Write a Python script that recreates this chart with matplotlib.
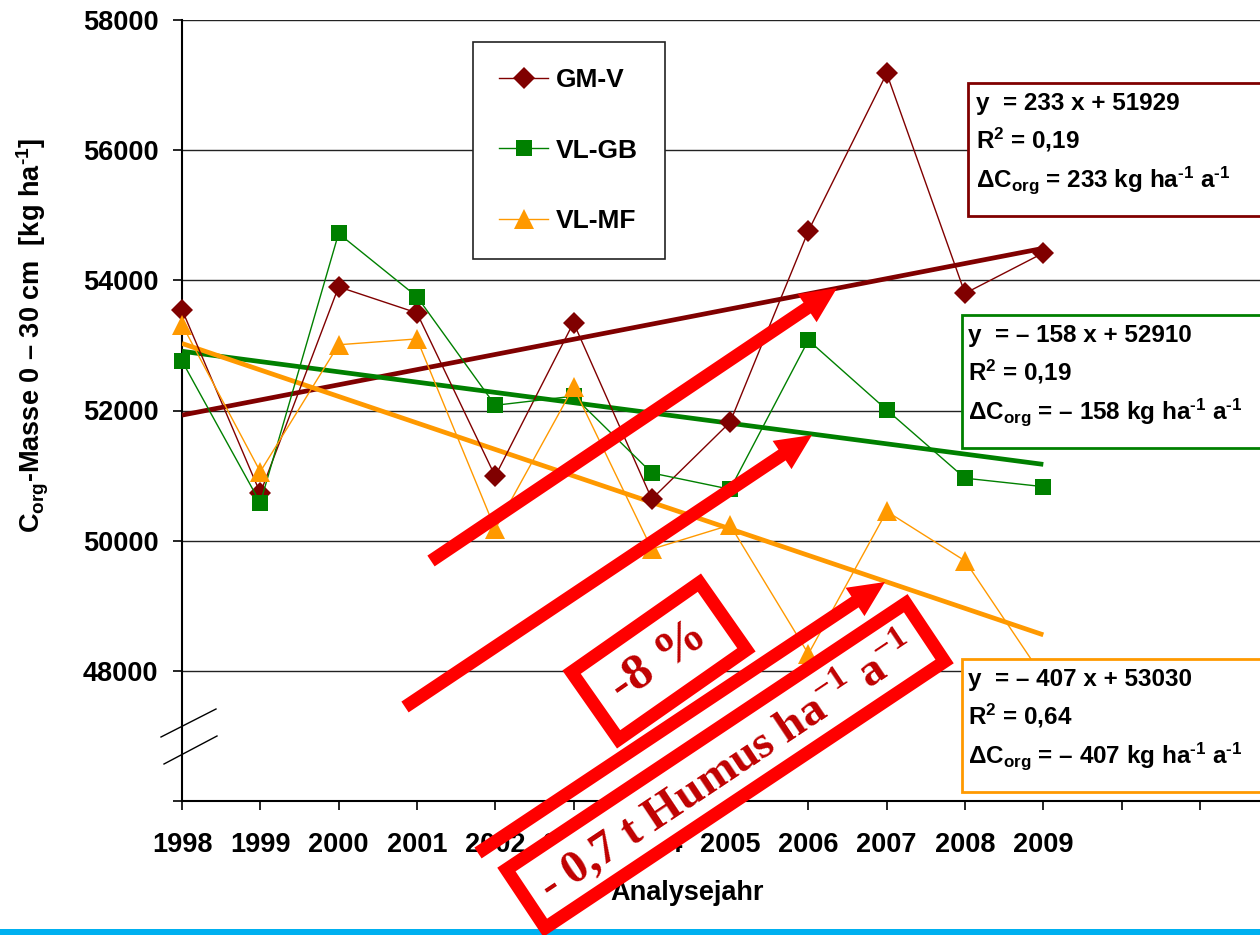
import matplotlib
matplotlib.use("Agg")
import matplotlib.pyplot as plt
import numpy as np
from matplotlib.patches import Rectangle, FancyArrow

# --- data -----------------------------------------------------------------
years = list(range(1998, 2010))
gm_v = [53550, 50730, 53900, 53500, 50990, 53350, 50640, 51820, 54760, 57180, 53800, 54420]
vl_gb = [52760, 50580, 54720, 53750, 52080, 52220, 51040, 50790, 53080, 52010, 50960, 50830]
vl_mf = [53320, 51060, 53010, 53100, 50180, 52360, 49870, 50240, 48260, 50450, 49690, 47900]

series_names = ["GM-V", "VL-GB", "VL-MF"]
series_values = [gm_v, vl_gb, vl_mf]
trend_slope = [233, -158, -407]
trend_icpt = [51929, 52910, 53030]
r_squared = ["0,19", "0,19", "0,64"]

y_ticks = [46000, 48000, 50000, 52000, 54000, 56000, 58000]
x_ticks = list(range(1998, 2012))

colors = ["#800000", "#008000", "#FF9900"]
markers = ["D", "s", "^"]
msizes = [11, 12, 14]

# --- figure ---------------------------------------------------------------
W, H = 1260, 935
plt.rcParams["font.family"] = ["Liberation Sans", "DejaVu Sans"]
plt.rcParams["font.weight"] = "bold"
plt.rcParams["mathtext.fontset"] = "custom"
plt.rcParams["mathtext.rm"] = "Liberation Sans:bold"
plt.rcParams["mathtext.bf"] = "Liberation Sans:bold"
plt.rcParams["mathtext.it"] = "Liberation Sans:bold"
plt.rcParams["mathtext.sf"] = "Liberation Serif:bold"
plt.rcParams["mathtext.default"] = "bf"

SUP = r"$^{\text{-1}}$"

fig = plt.figure(figsize=(W / 100, H / 100), dpi=100)
ax = fig.add_axes([182 / W, 1 - 801 / H, (W - 182) / W, (801 - 20) / H])

year_px = 78.3
ax.set_xlim(1998, 1998 + (W - 182) / year_px)
ax.set_ylim(46000, 58000)

ax.set_yticks(y_ticks)
ax.set_yticklabels(["" if v == 46000 else str(v) for v in y_ticks])
ax.set_xticks(x_ticks)
ax.set_xticklabels([str(v) if v <= 2009 else "" for v in x_ticks])
ax.tick_params(axis="both", direction="out", length=6.5, width=1.2,
               labelsize=19.5, colors="black")
ax.tick_params(axis="x", pad=16)
ax.tick_params(axis="y", pad=10.5)
ax.yaxis.grid(True, color="#222222", lw=1.0, zorder=0)
ax.set_axisbelow(True)
for side in ["top", "right"]:
    ax.spines[side].set_visible(False)
for side in ["left", "bottom"]:
    ax.spines[side].set_linewidth(1.5)

x = np.array(years)
handles = []
for name, vals, c, m, ms in zip(series_names, series_values, colors, markers, msizes):
    ln, = ax.plot(years, vals, color=c, lw=1.0, marker=m, markersize=ms,
                  markeredgewidth=0, zorder=4, label=name, clip_on=False)
    handles.append(ln)

for k, c, d in zip(trend_slope, trend_icpt, colors):
    ax.plot(x, k * (x - 1998) + c, color=d, lw=3.4, zorder=3,
            solid_capstyle="butt")

leg = ax.legend(handles, series_names, loc="upper left",
                bbox_to_anchor=(473 / W, 1 - 42 / H), bbox_transform=fig.transFigure,
                fontsize=19, handlelength=1.85, handletextpad=0.3, borderpad=1.0,
                labelspacing=1.75, borderaxespad=0, fancybox=False, framealpha=1,
                edgecolor="#222222")
leg.get_frame().set_linewidth(1.2)
leg.set_zorder(10)

ax.set_xlabel("Analysejahr", fontsize=19.5, fontweight="bold")
ax.xaxis.set_label_coords((687 - 182) / (W - 182), (801 - 893) / 781)
ax.xaxis.label.set_va("center")
ax.set_ylabel(r"C$_{org}$-Masse 0 – 30 cm  [kg ha" + SUP + "]", fontsize=19.5,
              fontweight="bold")
ax.yaxis.set_label_coords((33 - 182) / (W - 182), (801 - 335) / 781)
ax.yaxis.label.set_va("center")

# --- overlay in pixel coordinates for annotations ------------------------
ov = fig.add_axes([0, 0, 1, 1], zorder=5)
ov.set_xlim(0, W)
ov.set_ylim(H, 0)
ov.axis("off")
ov.patch.set_alpha(0)

# axis break marks
ov.plot([161, 216], [737, 709], color="black", lw=1.0)
ov.plot([164, 217], [764, 736], color="black", lw=1.0)

# blue bar at the bottom
ov.add_patch(Rectangle((0, 929), W, 8, color="#00B0F0", lw=0, zorder=1))

# regression boxes
box_tops = [83, 315, 659]
box_left = [968, 962, 962]
text_left = [976, 968, 968]
for i in range(3):
    ov.add_patch(Rectangle((box_left[i], box_tops[i]), 330, 133, facecolor="white",
                           edgecolor=colors[i], lw=2.0, zorder=2))
    k = trend_slope[i]
    sign = "" if k >= 0 else "– "
    base = box_tops[i] + 27
    ov.text(text_left[i], base, f"y  = {sign}{abs(k)} x + {trend_icpt[i]}",
            fontsize=17.5, va="baseline", ha="left", zorder=3)
    ov.text(text_left[i], base + 38.5, f"R$^{{2}}$ = {r_squared[i]}",
            fontsize=17.5, va="baseline", ha="left", zorder=3)
    ov.text(text_left[i], base + 77,
            f"ΔC$_{{org}}$ = {sign}{abs(k)} kg ha" + SUP + " a" + SUP,
            fontsize=17.5, va="baseline", ha="left", zorder=3)

# red arrows
arrows = [((431, 561), (837, 288)), ((405, 707), (812, 435)), ((478, 853), (885, 582))]
for (x0, y0), (x1, y1) in arrows:
    ov.add_patch(FancyArrow(x0, y0, x1 - x0, y1 - y0, width=13, head_width=34,
                            head_length=36, length_includes_head=True,
                            color="#FF0000", lw=0, zorder=4))

# rotated red boxes
SUP_SERIF = r"$^{\mathsf{-1}}$"
rboxes = [((659, 661), 156, 82, 35.0, "-8 %", 37),
          ((725.5, 765.5), 480, 70, 33.7, "- 0,7 t Humus ha" + SUP_SERIF + " a" + SUP_SERIF, 34)]
for (cx, cy), w, h, ang, txt, fs in rboxes:
    ov.add_patch(Rectangle((cx - w / 2, cy - h / 2), w, h, angle=-ang,
                           rotation_point="center", facecolor="white",
                           edgecolor="#FF0000", lw=9.5, zorder=5))
    ov.text(cx, cy, txt, rotation=ang, rotation_mode="anchor", ha="center",
            va="center", color="#C00000", fontsize=fs, fontweight="bold",
            family="Liberation Serif", zorder=6)

fig.savefig("out.png", dpi=100)
